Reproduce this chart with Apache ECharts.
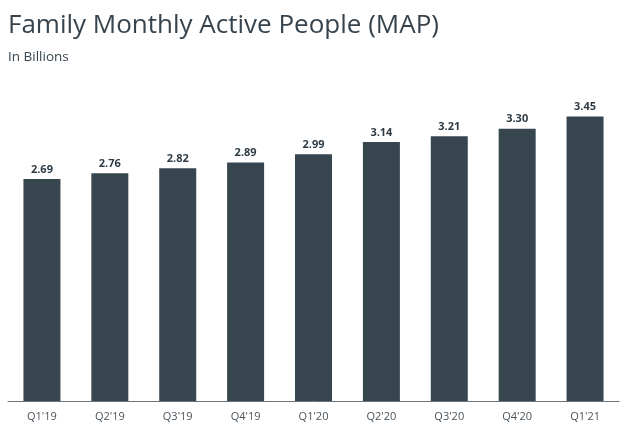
<!DOCTYPE html>
<html lang="en">
<head>
    <meta charset="UTF-8">
    <title>Family Monthly Active People</title>
    <style>
        body { margin: 0; padding: 0; background: #fff; }
        #chart { width: 640px; height: 430px; }
    </style>
</head>
<body>
    <div id="chart"></div>
    <script src="https://cdn.jsdelivr.net/npm/echarts@6/dist/echarts.min.js"></script>
    <script>
        var quarters = ["Q1'19", "Q2'19", "Q3'19", "Q4'19", "Q1'20", "Q2'20", "Q3'20", "Q4'20", "Q1'21"];
        var mapValues = [2.69, 2.76, 2.82, 2.89, 2.99, 3.14, 3.21, 3.30, 3.45];

        var myChart = echarts.init(document.getElementById('chart'));
        var option = {
            animation: false,
            title: {
                text: 'Family Monthly Active People (MAP)',
                subtext: 'In Billions',
                left: 3,
                top: 8,
                itemGap: 11,
                textStyle: {
                    fontFamily: 'Open Sans',
                    fontWeight: 'normal',
                    fontSize: 26,
                    color: '#37444e'
                },
                subtextStyle: {
                    fontFamily: 'Open Sans',
                    fontSize: 13.5,
                    color: '#37444e'
                }
            },
            grid: { left: 8, right: 21, top: 71, bottom: 29 },
            xAxis: {
                type: 'category',
                data: quarters,
                axisTick: { show: false },
                axisLine: { lineStyle: { color: '#6b747b', width: 1 } },
                axisLabel: {
                    fontFamily: 'Open Sans',
                    fontSize: 11,
                    color: '#4a545c',
                    margin: 10
                }
            },
            yAxis: {
                type: 'value',
                min: 0,
                max: 4,
                show: false,
                splitLine: { show: false }
            },
            series: [{
                type: 'bar',
                data: mapValues,
                barWidth: 37,
                itemStyle: { color: '#37454f' },
                label: {
                    show: true,
                    position: 'top',
                    distance: 4,
                    fontFamily: 'Open Sans',
                    fontWeight: 'bold',
                    fontSize: 11,
                    color: '#2f3b44',
                    formatter: function (p) { return p.value.toFixed(2); }
                }
            }]
        };
        myChart.setOption(option);
    </script>
</body>
</html>
